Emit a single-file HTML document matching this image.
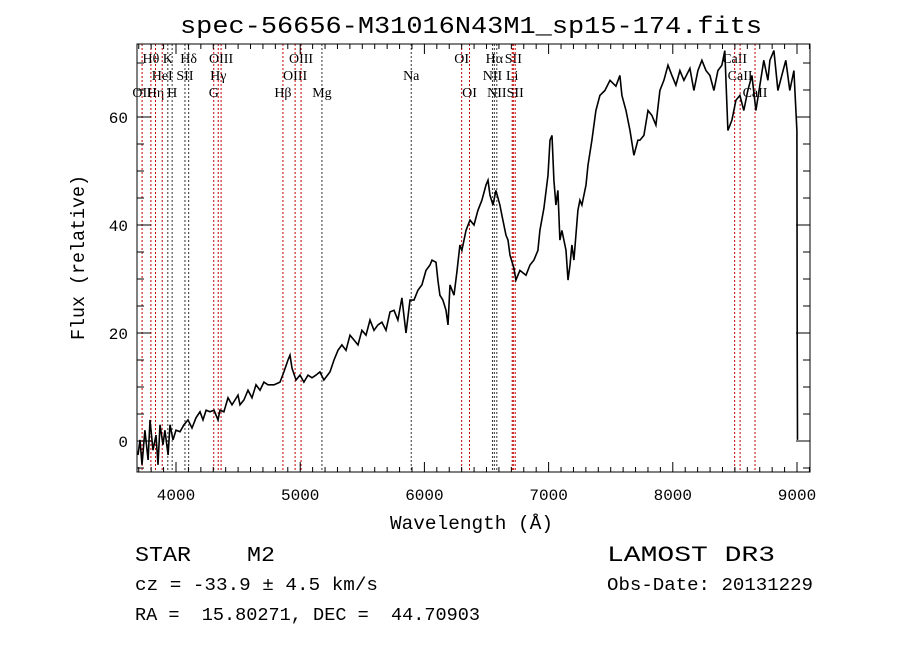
<!DOCTYPE html>
<html><head><meta charset="utf-8"><style>
html,body{margin:0;padding:0;background:#fff;}
svg{display:block;}
text{font-family:"Liberation Mono",monospace;fill:#000;white-space:pre;}
.lbl{font-family:"Liberation Serif",serif;font-size:14px;}
</style></head><body>
<svg id="chart" width="900" height="649" viewBox="0 0 900 649" xmlns="http://www.w3.org/2000/svg" xml:space="preserve">
<rect width="900" height="649" fill="#fff"/>
<text x="180" y="33" font-size="24" textLength="582" lengthAdjust="spacingAndGlyphs">spec-56656-M31016N43M1_sp15-174.fits</text>
<g id="lines"></g>
<g id="spec"></g>
<g id="axes"></g>
<text x="390" y="529" font-size="19" textLength="163" lengthAdjust="spacingAndGlyphs">Wavelength (Å)</text>
<text transform="translate(84,340) rotate(-90)" font-size="19" textLength="165" lengthAdjust="spacingAndGlyphs">Flux (relative)</text>
<text x="135" y="561" font-size="21" textLength="140" lengthAdjust="spacingAndGlyphs">STAR    M2</text>
<text x="135" y="590" font-size="18" textLength="243" lengthAdjust="spacingAndGlyphs">cz = -33.9 ± 4.5 km/s</text>
<text x="135" y="620" font-size="18" textLength="345" lengthAdjust="spacingAndGlyphs">RA =  15.80271, DEC =  44.70903</text>
<text x="607" y="561" font-size="22" textLength="168" lengthAdjust="spacingAndGlyphs">LAMOST DR3</text>
<text x="607" y="590" font-size="18" textLength="206" lengthAdjust="spacingAndGlyphs">Obs-Date: 20131229</text>
</svg>
<script>
const wavelengths=[3694,3710,3726,3750,3775,3791,3815,3839,3855,3871,3895,3911,3936,3952,3976,4000,4032,4064,4097,4129,4161,4193,4217,4242,4274,4306,4338,4354,4386,4419,4451,4475,4499,4515,4547,4580,4612,4644,4676,4708,4741,4789,4837,4869,4902,4918,4934,4966,4998,5030,5063,5095,5127,5159,5191,5240,5272,5304,5336,5369,5401,5433,5465,5497,5530,5562,5594,5626,5658,5691,5723,5755,5787,5819,5835,5852,5884,5916,5948,5980,6013,6045,6061,6093,6109,6125,6149,6174,6190,6206,6238,6262,6286,6302,6335,6367,6399,6431,6463,6496,6512,6528,6552,6576,6608,6624,6657,6673,6689,6721,6737,6769,6785,6818,6850,6882,6914,6930,6962,6995,7011,7027,7043,7059,7075,7091,7107,7140,7156,7172,7188,7204,7220,7236,7252,7268,7301,7317,7349,7381,7413,7453,7494,7542,7574,7590,7623,7655,7687,7719,7735,7767,7800,7832,7864,7896,7928,7961,7993,8025,8057,8089,8138,8170,8202,8234,8267,8299,8331,8363,8395,8419,8444,8476,8508,8540,8572,8604,8637,8669,8701,8733,8766,8782,8814,8846,8878,8910,8942,8975,8999,9002,9004];
const fluxes=[-2.6,0.2,-4.4,2.0,-3.5,3.9,-1.7,1.1,-4.4,3.0,-0.7,2.0,-2.6,3.0,0.2,2.0,1.7,3.0,3.9,2.4,4.3,5.4,3.9,5.7,5.4,5.7,3.9,5.7,5.4,8.0,6.7,7.6,8.5,6.7,7.6,9.4,8.0,10.4,9.4,10.9,10.4,10.4,10.9,12.8,15.0,15.9,13.5,11.3,12.2,10.9,12.2,11.7,12.2,12.8,11.3,12.8,15.0,16.8,17.8,16.8,19.6,18.7,17.8,20.5,19.6,22.4,20.5,21.5,22.0,20.5,23.9,24.2,22.4,26.5,23.3,20.0,26.1,26.1,27.9,28.9,31.6,32.6,33.5,33.1,29.8,27.0,26.1,24.2,21.5,28.9,27.0,31.3,36.3,35.3,39.0,40.9,40.0,42.7,44.6,47.4,48.3,45.5,43.7,46.4,43.7,41.8,38.1,37.2,34.4,32.0,29.8,31.6,31.3,30.7,32.6,33.5,35.3,39.0,43.1,49.2,55.7,56.6,48.3,43.7,46.4,37.2,39.0,35.3,29.8,32.6,36.3,33.5,38.1,42.7,44.6,43.7,47.4,51.1,55.7,61.2,64.0,64.9,66.8,65.7,67.7,64.0,61.2,57.5,52.9,55.7,55.7,56.6,61.2,60.3,58.5,64.9,66.8,69.6,67.7,65.9,68.6,66.8,69.0,64.9,68.6,70.5,68.6,67.7,64.9,68.6,69.6,72.3,57.5,59.4,63.1,64.0,61.2,64.9,67.7,61.2,65.9,70.5,66.8,70.5,72.3,64.9,67.7,70.5,64.9,68.6,57.5,19.1,0.2];
const lineWaves=[3727,3798,3835,3889,3934,3969,4072,4102,4304,4340,4363,4861,4959,5007,5175,5894,6300,6363,6548,6563,6583,6707,6716,6731,8498,8542,8662];
const lineNames=["OII","Hθ","Hη","HeI","K","H","SII","Hδ","G","Hγ","OIII","Hβ","OIII","OIII","Mg","Na","OI","OI","NII","Hα","NII","Li","SII","SII","CaII","CaII","CaII"];
const lineRows=[2,0,2,1,0,2,1,0,2,1,0,2,1,0,2,1,0,2,1,0,2,1,0,2,0,1,2];
const lineAbs=[0,0,0,0,1,1,1,1,0,0,0,0,0,0,1,1,0,0,1,1,1,0,0,0,0,0,0];
const xTicks=[4000,5000,6000,7000,8000,9000];
const yTicks=[0,20,40,60];

const L=137,R=810,T=44,B=472;
const xs=w=>176+(w-4000)*0.1242;
const ys=f=>441-f*5.4;
const NS="http://www.w3.org/2000/svg";
function mk(tag,parent,attrs){const e=document.createElementNS(NS,tag);for(const k in attrs)e.setAttribute(k,attrs[k]);parent.appendChild(e);return e;}

const lg=document.getElementById('lines');
lineWaves.forEach((w,i)=>{
  const x=xs(w);
  const ln=mk('line',lg,{x1:x,x2:x,y1:T,y2:B,stroke:lineAbs[i]?'#333':'#c00000','stroke-width':1,'stroke-dasharray':'2,2'});
  
  
  const t=mk('text',lg,{x:x,y:63+lineRows[i]*17,'text-anchor':'middle',class:'lbl'});
  t.textContent=lineNames[i];
  
  
});

const sg=document.getElementById('spec');
let d='';
wavelengths.forEach((w,i)=>{d+=(i?'L':'M')+xs(w).toFixed(1)+','+ys(fluxes[i]).toFixed(1);});
const p=mk('path',sg,{d:d,fill:'none',stroke:'#000','stroke-width':1.6,'stroke-linejoin':'miter'});



const ag=document.getElementById('axes');
const fr=mk('rect',ag,{x:L,y:T,width:R-L,height:B-T,fill:'none',stroke:'#000','stroke-width':1});


for(let w=3700;w<=9100;w+=100){
  const x=xs(w);const len=(w%1000===0)?10:5;
  mk('line',ag,{x1:x,x2:x,y1:B,y2:B-len,stroke:'#000'});
  mk('line',ag,{x1:x,x2:x,y1:T,y2:T+len,stroke:'#000'});
}
for(let f=-5;f<=70;f+=5){
  const y=ys(f);const len=(f%20===0)?14:7;
  mk('line',ag,{x1:L,x2:L+len,y1:y,y2:y,stroke:'#000'});
  mk('line',ag,{x1:R,x2:R-len,y1:y,y2:y,stroke:'#000'});
}
xTicks.forEach(v=>{
  const t=mk('text',ag,{x:xs(v),y:500,'text-anchor':'middle','font-size':16});
  t.textContent=v;
  
  
});
yTicks.forEach(v=>{
  const t=mk('text',ag,{x:128,y:ys(v)+6,'text-anchor':'end','font-size':16});
  t.textContent=v;
  
  
});
</script>
</body></html>
